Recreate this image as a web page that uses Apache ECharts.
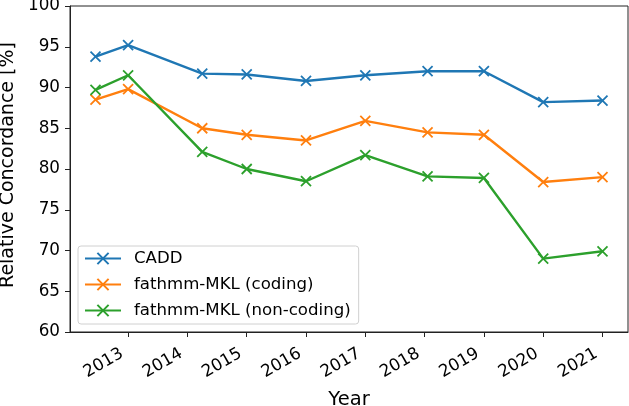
<!DOCTYPE html>
<html>
<head>
<meta charset="utf-8">
<script src="https://cdn.jsdelivr.net/npm/echarts@6/dist/echarts.min.js"></script>
<style>html,body{margin:0;padding:0;background:#fff}#c{width:629px;height:406px}</style>
</head>
<body>
<div id="c"></div>
<script>
const years = [2012.45, 2013, 2014.25, 2015, 2016, 2017, 2018.05, 2019, 2020, 2021];
const tickYears = [2013, 2014, 2015, 2016, 2017, 2018, 2019, 2020, 2021];
const cadd = [93.8, 95.2, 91.7, 91.6, 90.8, 91.5, 92.0, 92.0, 88.2, 88.4];
const fathmmCoding = [88.5, 89.8, 85.0, 84.2, 83.5, 85.9, 84.5, 84.2, 78.4, 79.0];
const fathmmNonCoding = [89.7, 91.5, 82.1, 80.0, 78.5, 81.7, 79.1, 78.9, 69.0, 69.9];
const seriesNames = ['CADD', 'fathmm-MKL (coding)', 'fathmm-MKL (non-coding)'];
const colors = ['#1f77b4', '#ff7f0e', '#2ca02c'];
const font = 'DejaVu Sans';

const chart = echarts.init(document.getElementById('c'));
function mk(name, vals, color) {
  return {
    name: name, type: 'line',
    data: years.map((y, i) => [y, vals[i]]),
    symbol: 'path://M0,0L10,10M10,0L0,10',
    symbolSize: 10,
    showSymbol: true,
    lineStyle: {color: color, width: 2.4},
    itemStyle: {color: color, borderColor: color, borderWidth: 1.8},
    emphasis: {disabled: true}
  };
}
chart.setOption({
  animation: false,
  color: colors,
  grid: {left: 70, right: 1, top: 6, bottom: 74, outerBoundsMode: 'none', containLabel: false, show: true, borderColor: '#222', borderWidth: 1, backgroundColor: 'transparent'},
  legend: {
    orient: 'vertical', left: 78, top: 246,
    data: seriesNames,
    itemWidth: 36, itemHeight: 14, itemGap: 9,
    padding: [4, 8, 5, 6],
    borderColor: '#d0d0d0', borderWidth: 1, borderRadius: 3,
    backgroundColor: 'rgba(255,255,255,0.8)',
    textStyle: {fontFamily: font, fontSize: 16.6, color: '#000', padding: [0, 0, 0, 8]}
  },
  xAxis: {
    type: 'value', min: 2012.02, max: 2021.43,
    name: 'Year', nameLocation: 'middle', nameGap: 58,
    nameTextStyle: {fontFamily: font, fontSize: 19.5, color: '#000'},
    axisLine: {show: true, lineStyle: {color: '#222', width: 1}},
    axisTick: {show: true, customValues: tickYears, length: 5, lineStyle: {color: '#222'}},
    axisLabel: {customValues: tickYears, rotate: 30, margin: 17, padding: [0, 7, 0, 0], fontFamily: font, fontSize: 16.8, color: '#000', formatter: v => String(Math.round(v))},
    splitLine: {show: false}
  },
  yAxis: {
    type: 'value', min: 60, max: 100, interval: 5,
    name: 'Relative Concordance [%]', nameLocation: 'middle', nameGap: 46,
    nameTextStyle: {fontFamily: font, fontSize: 19, color: '#000', padding: [0, 0, 0, 8]},
    axisLine: {show: true, lineStyle: {color: '#222', width: 1}},
    axisTick: {show: true, length: 5, lineStyle: {color: '#222'}},
    axisLabel: {margin: 10, fontFamily: font, fontSize: 16.8, color: '#000'},
    splitLine: {show: false}
  },
  series: [
    mk(seriesNames[0], cadd, colors[0]),
    mk(seriesNames[1], fathmmCoding, colors[1]),
    mk(seriesNames[2], fathmmNonCoding, colors[2])
  ]
});
</script>
</body>
</html>
